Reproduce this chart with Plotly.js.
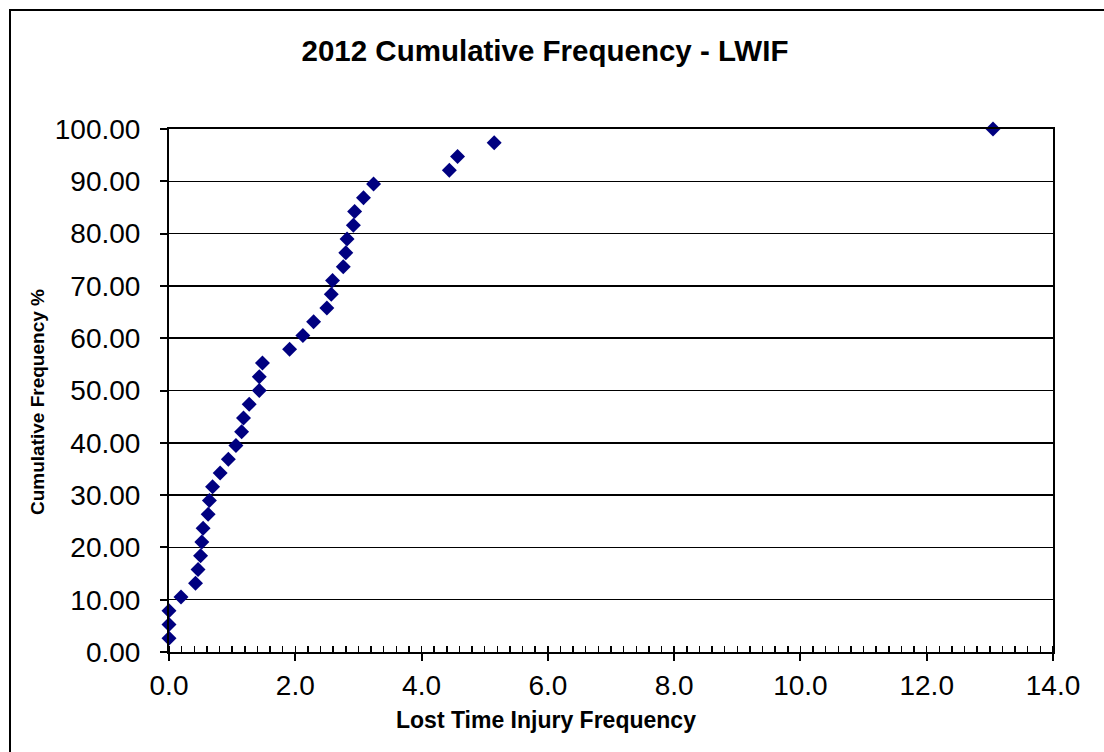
<!DOCTYPE html>
<html>
<head>
<meta charset="utf-8">
<script src="https://cdn.plot.ly/plotly-3.0.1.min.js"></script>
<style>
  html, body { margin: 0; padding: 0; background: #fff; }
  #chart { width: 1104px; height: 752px; }
</style>
</head>
<body>
<div id="chart"></div>
<script>
// Lost Time Injury Frequency values (x), sorted
const ltifValues = [
  0.0, 0.0, 0.0, 0.19, 0.42, 0.46, 0.50, 0.52, 0.54, 0.62, 0.64,
  0.69, 0.81, 0.94, 1.06, 1.15, 1.18, 1.27, 1.43, 1.43, 1.48, 1.91, 2.12,
  2.29, 2.50, 2.57, 2.59, 2.76, 2.80, 2.82, 2.92, 2.94, 3.08, 3.24,
  4.44, 4.57, 5.15, 13.05
];
// Cumulative frequency % (y)
const cumulativePct = [
  2.63, 5.26, 7.89, 10.53, 13.16, 15.79, 18.42, 21.05, 23.68, 26.32, 28.95,
  31.58, 34.21, 36.84, 39.47, 42.11, 44.74, 47.37, 50.00, 52.63, 55.26, 57.89, 60.53,
  63.16, 65.79, 68.42, 71.05, 73.68, 76.32, 78.95, 81.58, 84.21, 86.84, 89.47,
  92.11, 94.74, 97.37, 100.00
];
const xTickVals = [0, 2, 4, 6, 8, 10, 12, 14];
const xTickText = ["0.0", "2.0", "4.0", "6.0", "8.0", "10.0", "12.0", "14.0"];
const yTickVals = [0, 10, 20, 30, 40, 50, 60, 70, 80, 90, 100];
const yTickText = ["0.00", "10.00", "20.00", "30.00", "40.00", "50.00", "60.00", "70.00", "80.00", "90.00", "100.00"];
const chartTitle = '2012 Cumulative Frequency - LWIF';
const xTitle = 'Lost Time Injury Frequency';
const yTitle = 'Cumulative Frequency %';

const trace = {
  x: ltifValues,
  y: cumulativePct,
  type: 'scatter',
  mode: 'markers',
  marker: { symbol: 'diamond', size: 11.5, color: '#000080', line: { width: 0 } },
  cliponaxis: false,
  hoverinfo: 'x+y'
};

const fontFam = 'Liberation Sans, Arial, sans-serif';
const L = 169, R = 1053, T = 129, B = 652;
const px2x = p => (p - L) / (R - L);
const px2y = p => (B - p) / (B - T);

const layout = {
  width: 1104,
  height: 752,
  margin: { l: L, r: 1104 - R, t: T, b: 752 - B },
  paper_bgcolor: '#ffffff',
  plot_bgcolor: '#ffffff',
  showlegend: false,
  font: { family: fontFam, color: '#000' },
  title: {
    text: '<b>' + chartTitle + '</b>',
    font: { family: fontFam, size: 29.5, color: '#000' },
    x: 545 / 1104, xref: 'container', xanchor: 'center',
    y: 1 - 51 / 752, yref: 'container', yanchor: 'middle'
  },
  xaxis: {
    range: [0, 14],
    tickvals: xTickVals,
    ticktext: xTickText,
    tickfont: { family: fontFam, size: 28, color: '#000' },
    ticklabelstandoff: 0,
    showgrid: false,
    zeroline: false,
    showline: true, linecolor: '#000', linewidth: 2, mirror: true,
    ticks: 'outside', ticklen: 7, tickwidth: 2, tickcolor: '#000',
    minor: { dtick: 0.2, ticks: 'inside', ticklen: 6, tickwidth: 1.5, tickcolor: '#000', showgrid: false },
    fixedrange: true
  },
  yaxis: {
    range: [0, 100],
    tickvals: yTickVals,
    ticktext: yTickText,
    tickfont: { family: fontFam, size: 28, color: '#000' },
    ticklabelstandoff: 14,
    showgrid: true, gridcolor: '#000', gridwidth: 1.5,
    zeroline: false,
    showline: true, linecolor: '#000', linewidth: 2, mirror: true,
    ticks: 'outside', ticklen: 7, tickwidth: 2, tickcolor: '#000',
    fixedrange: true
  },
  annotations: [
    {
      text: '<b>' + xTitle + '</b>', showarrow: false,
      xref: 'paper', yref: 'paper', x: px2x(546), y: px2y(720),
      xanchor: 'center', yanchor: 'middle',
      font: { family: fontFam, size: 23, color: '#000' }
    },
    {
      text: '<b>' + yTitle + '</b>', showarrow: false, textangle: -90,
      xref: 'paper', yref: 'paper', x: px2x(37), y: px2y(402),
      xanchor: 'center', yanchor: 'middle',
      font: { family: fontFam, size: 19, color: '#000' }
    }
  ],
  shapes: [{
    type: 'rect', xref: 'paper', yref: 'paper',
    x0: px2x(10), x1: 1.3,
    y0: -0.4, y1: px2y(10),
    line: { color: '#000', width: 2 },
    fillcolor: 'rgba(0,0,0,0)',
    layer: 'below'
  }]
};

Plotly.newPlot('chart', [trace], layout, { displayModeBar: false, staticPlot: true });
</script>
</body>
</html>
